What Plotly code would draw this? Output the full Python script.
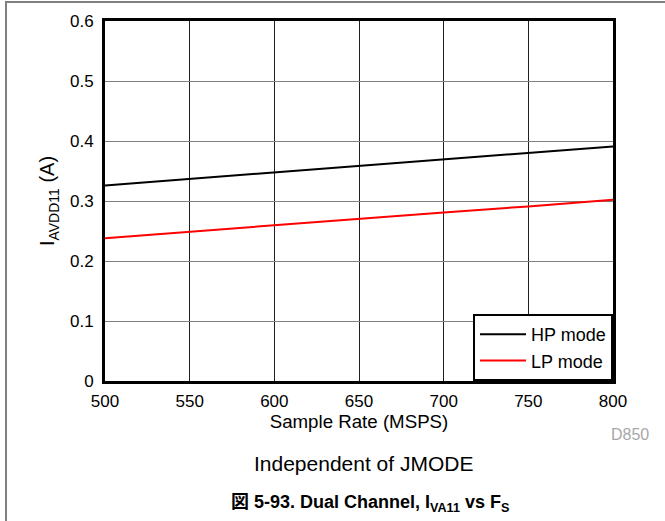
import plotly.graph_objects as go

sample_rate = [500, 550, 600, 650, 700, 750, 800]
hp_mode = [0.326, 0.337, 0.348, 0.358, 0.369, 0.380, 0.391]
lp_mode = [0.238, 0.249, 0.259, 0.270, 0.281, 0.291, 0.302]
x_ticks = [500, 550, 600, 650, 700, 750, 800]
y_ticks = [0, 0.1, 0.2, 0.3, 0.4, 0.5, 0.6]
y_tick_text = ["0", "0.1", "0.2", "0.3", "0.4", "0.5", "0.6"]

FONT = "Liberation Sans, Arial, Noto Sans CJK JP, sans-serif"

fig = go.Figure()
fig.add_trace(go.Scatter(x=sample_rate, y=hp_mode, mode="lines", name="HP mode",
                         line=dict(color="black", width=2)))
fig.add_trace(go.Scatter(x=sample_rate, y=lp_mode, mode="lines", name="LP mode",
                         line=dict(color="#ff0000", width=2)))

fig.update_layout(
    width=665, height=521,
    margin=dict(l=105, r=52, t=21, b=140),
    paper_bgcolor="white", plot_bgcolor="white",
    font=dict(family=FONT, size=17, color="black"),
    showlegend=True,
    legend=dict(x=1, y=0, xanchor="right", yanchor="bottom",
                bordercolor="black", borderwidth=2, bgcolor="white",
                font=dict(size=18), tracegroupgap=0, itemwidth=46),
)

fig.update_xaxes(
    range=[500, 800], tickvals=x_ticks, ticktext=[str(v) for v in x_ticks],
    showgrid=True, gridcolor="#202020", gridwidth=1,
    showline=True, linecolor="black", linewidth=3, mirror=True,
    zeroline=False, ticks="", ticklabelstandoff=3,
    tickfont=dict(size=17),
    title=dict(text="Sample Rate (MSPS)", standoff=1, font=dict(size=18.7)),
)
fig.update_yaxes(
    range=[0, 0.6], tickvals=y_ticks, ticktext=y_tick_text,
    showgrid=True, gridcolor="#808080", gridwidth=1,
    showline=True, linecolor="black", linewidth=3, mirror=True,
    zeroline=False, ticks="", ticklabelstandoff=5,
    tickfont=dict(size=17),
    title=dict(text="I<sub>AVDD11</sub> (A)", standoff=10, font=dict(size=20)),
)

# outer frame lines (top and left)
fig.add_shape(type="line", xref="paper", yref="paper",
              x0=-100/508, x1=62/508 + 1, y0=1 + 19/360, y1=1 + 19/360,
              line=dict(color="#808080", width=2))
fig.add_shape(type="line", xref="paper", yref="paper",
              x0=-99/508, x1=-99/508, y0=1 + 19/360, y1=-140/360,
              line=dict(color="#808080", width=2))

fig.add_annotation(text="D850", xref="paper", yref="paper",
                   x=(630 - 105) / 508, y=(381 - 434) / 360,
                   xanchor="center", yanchor="middle",
                   showarrow=False, font=dict(size=16, color="#a8a8a8"))
fig.add_annotation(text="Independent of JMODE", xref="paper", yref="paper",
                   x=(363 - 105) / 508, y=(381 - 463) / 360,
                   xanchor="center", yanchor="middle",
                   showarrow=False, font=dict(size=21, color="black"))
fig.add_annotation(text="<b>図 5-93. Dual Channel, I<sub>VA11</sub> vs F<sub>S</sub></b>",
                   xref="paper", yref="paper",
                   x=(370 - 105) / 508, y=(381 - 503) / 360,
                   xanchor="center", yanchor="middle",
                   showarrow=False, font=dict(size=18, color="black"))

fig.write_html("out.html", post_script="document.body.style.margin='0';",
               config={"displayModeBar": False})
